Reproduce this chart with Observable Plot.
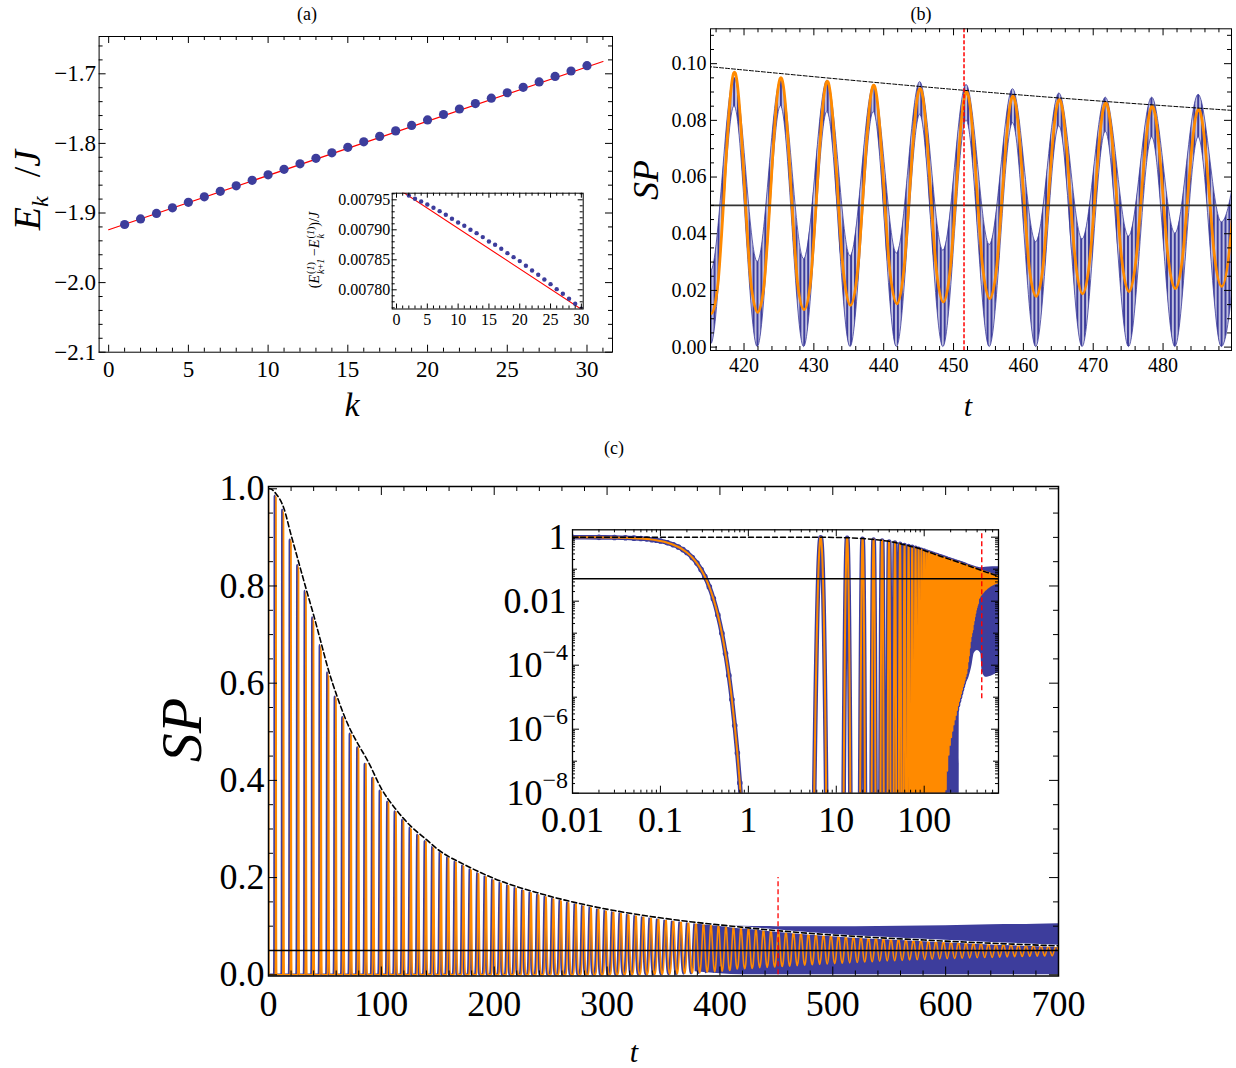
<!DOCTYPE html>
<html>
<head>
<meta charset="utf-8">
<title>Survival probability figure</title>
<script src="https://cdn.jsdelivr.net/npm/d3@7"></script>
<script src="https://cdn.jsdelivr.net/npm/@observablehq/plot@0.6"></script>
<style>
html,body{margin:0;padding:0;background:#fff;}
#page{position:relative;width:1236px;height:1068px;overflow:hidden;background:#fff;font-family:"Liberation Serif","Times New Roman",serif;color:#000;}
#page > svg{position:absolute;overflow:visible;}
.lab{position:absolute;white-space:nowrap;line-height:1;transform:translate(-50%,-50%);}
.rot{transform:translate(-50%,-50%) rotate(-90deg);}
.it{font-style:italic;}
.ss{display:inline-flex;flex-direction:column;vertical-align:middle;font-size:0.72em;line-height:0.95;margin-left:1px;}
</style>
</head>
<body>
<div id="page">
  <div class="lab" style="left:307px;top:14px;font-size:18px">(a)</div>
  <div class="lab" style="left:921px;top:14px;font-size:18px">(b)</div>
  <div class="lab" style="left:614px;top:448px;font-size:18px">(c)</div>
  <div class="lab rot" style="left:30px;top:190px;font-size:38px"><span class="it">E</span><sub class="it" style="font-size:24px">k</sub>&nbsp;&nbsp;/<span class="it">J</span></div>
  <div class="lab it" style="left:352px;top:405px;font-size:34px">k</div>
  <div class="lab rot" style="left:316px;top:250px;font-size:14px">(<span class="it">E</span><span class="ss"><span>(<i>1</i>)</span><span><i>k</i>+<i>1</i></span></span>&thinsp;−<span class="it">E</span><span class="ss"><span>(<i>1</i>)</span><span><i>k</i></span></span>)/<span class="it">J</span></div>
  <div class="lab rot it" style="left:646px;top:180px;font-size:36px">SP</div>
  <div class="lab it" style="left:968px;top:406px;font-size:30px">t</div>
  <div class="lab rot it" style="left:182px;top:730px;font-size:58px">SP</div>
  <div class="lab it" style="left:634px;top:1052px;font-size:30px">t</div>
</div>
<script>
// ======================= DATA =======================
// Panel (a): energies E_k / J
const aK = [1,2,3,4,5,6,7,8,9,10,11,12,13,14,15,16,17,18,19,20,21,22,23,24,25,26,27,28,29,30];
const aEnergy = [-1.9165,-1.9085,-1.9006,-1.8926,-1.8847,-1.8768,-1.8688,-1.8609,-1.8530,-1.8451,
  -1.8372,-1.8293,-1.8214,-1.8135,-1.8056,-1.7977,-1.7899,-1.7820,-1.7742,-1.7663,
  -1.7585,-1.7506,-1.7428,-1.7350,-1.7272,-1.7194,-1.7116,-1.7038,-1.6960,-1.6883];
const aFitK = [0, 31];
const aFitEnergy = [-1.9240, -1.6823];
// Panel (a) inset: level spacing
const aGapK = [2,3,4,5,6,7,8,9,10,11,12,13,14,15,16,17,18,19,20,21,22,23,24,25,26,27,28,29,30];
const aGap = [0.0079570,0.0079517,0.0079472,0.0079422,0.0079367,0.0079311,0.0079250,0.0079183,0.0079122,0.0079067,
  0.0079000,0.0078944,0.0078878,0.0078806,0.0078750,0.0078683,0.0078611,0.0078544,0.0078478,0.0078400,
  0.0078322,0.0078250,0.0078172,0.0078094,0.0078011,0.0077933,0.0077850,0.0077767,0.0077683];
const aGapFitK = [0, 31];
const aGapFit = [0.0079698, 0.0077608];

// Panels (b),(c): revival structure of the survival probability
const revivalPeriod = 6.645;           // spacing of the revivals
const decayWidth = 0.19;               // width of the initial decay
// initial decay (t, SP)
const decayT  = [0,0.01,0.02,0.03,0.04,0.05,0.06,0.07,0.08,0.09,0.10,0.12,0.14,0.16,0.18,0.20,0.23,0.26,0.29,0.32,0.36,0.40,0.45,0.50,0.55,0.60,0.65,0.70,0.75,0.80,0.85];
const decaySP = [1,0.9972,0.989,0.975,0.957,0.933,0.905,0.873,0.838,0.799,0.759,0.672,0.582,0.493,0.409,0.331,0.232,0.155,0.098,0.059,0.0279,0.0120,3.7e-3,1.0e-3,2.3e-4,4.8e-5,8.5e-6,1.3e-6,1.8e-7,2.1e-8,2.1e-9];
// peak height of revival k (k = 0..105)
const cPeak = [1.000,0.986,0.957,0.895,0.843,0.790,0.735,0.678,0.622,0.572,
  0.530,0.496,0.468,0.434,0.405,0.379,0.356,0.336,0.319,0.303,
  0.288,0.275,0.263,0.252,0.242,0.233,0.225,0.217,0.209,0.203,
  0.196,0.190,0.185,0.179,0.174,0.170,0.165,0.161,0.157,0.153,
  0.149,0.146,0.143,0.139,0.136,0.133,0.131,0.128,0.126,0.123,
  0.121,0.119,0.116,0.114,0.112,0.110,0.108,0.107,0.105,0.103,
  0.102,0.100,0.098,0.0970,0.0951,0.0938,0.0924,0.0912,0.0900,0.0885,
  0.0873,0.0861,0.0849,0.0838,0.0827,0.0816,0.0806,0.0796,0.0787,0.0777,
  0.0768,0.0759,0.0750,0.0742,0.0733,0.0725,0.0717,0.0709,0.0702,0.0694,
  0.0687,0.0680,0.0673,0.0666,0.0659,0.0653,0.0646,0.0640,0.0634,0.0628,
  0.0622,0.0616,0.0610,0.0605,0.0599,0.0594];
// width (sigma) of revival k
const cWidth = [0.19,0.24,0.27,0.29,0.31,0.33,0.35,0.37,0.39,0.41,
  0.43,0.45,0.47,0.49,0.51,0.53,0.55,0.57,0.59,0.61,
  0.63,0.65,0.67,0.70,0.72,0.74,0.76,0.78,0.81,0.83,
  0.85,0.87,0.89,0.92,0.94,0.96,0.98,1.00,1.03,1.05,
  1.07,1.10,1.13,1.16,1.19,1.22,1.26,1.30,1.34,1.38,
  1.42,1.47,1.52,1.57,1.62,1.67,1.71,1.75,1.79,1.83,
  1.86,1.89,1.92,1.95,1.99,2.03,2.06,2.10,2.13,2.17,
  2.20,2.23,2.27,2.30,2.34,2.37,2.41,2.44,2.48,2.51,
  2.55,2.58,2.61,2.65,2.68,2.72,2.75,2.77,2.79,2.82,
  2.84,2.86,2.88,2.90,2.92,2.94,2.96,2.98,3.00,3.02,
  3.04,3.06,3.08,3.10,3.12,3.14];
// minimum between revival k and k+1
const cTrough = [0,0,0,0,0,0,0,0,0,0,
  0,0,0,0,0,0,0,0,0,0,
  0,0,1e-11,6e-11,3e-10,2.5e-9,1.3e-8,5e-8,1.6e-7,3.2e-7,
  5.6e-7,8.9e-7,1.4e-6,2e-6,2.8e-6,4e-6,5.6e-6,7.6e-6,1e-5,1.3e-5,
  1.7e-5,2.2e-5,2.8e-5,3.5e-5,4.5e-5,5.6e-5,8e-5,1.3e-4,2e-4,3.5e-4,
  5.6e-4,8e-4,1.05e-3,1.3e-3,1.9e-3,2.5e-3,3.3e-3,4.3e-3,5.4e-3,6.5e-3,
  7.6e-3,8.7e-3,0.0118,0.0123,0.0132,0.0147,0.0153,0.0159,0.0171,0.0179,
  0.0188,0.0196,0.0206,0.0214,0.0222,0.0230,0.0238,0.0246,0.0254,0.0262,
  0.0270,0.0277,0.0284,0.0290,0.0297,0.0303,0.0309,0.0315,0.0320,0.0326,
  0.0331,0.0336,0.0341,0.0346,0.0350,0.0355,0.0359,0.0363,0.0367,0.0371,
  0.0375,0.0379,0.0383,0.0386,0.0390,0.0393];
// dashed envelope
const envT  = [0,0.01,1,6.6,13.3,20,26.6,33.2,40,46.5,53,60,66.4,73,80,88,100,113,126,140,150,175,200,241,291,330,364,419,452,496,572,640,700];
const envSP = [1,1,1,0.99,0.962,0.905,0.85,0.795,0.74,0.684,0.628,0.578,0.537,0.502,0.472,0.44,0.383,0.34,0.306,0.278,0.258,0.225,0.198,0.167,0.139,0.123,0.112,0.098,0.0905,0.0825,0.0725,0.065,0.0595];
const thresholdSP = 0.05;
const markerT = 451.5;
// (b) fast blue oscillation band at the extrema of the slow oscillation
const bBandT  = [411.99,415.31,418.64,421.96,425.28,428.60,431.93,435.25,438.57,441.89,445.22,448.54,451.86,455.18,458.51,461.83,465.15,468.47,471.80,475.12,478.44,481.76,485.09,488.41,491.73];
const bBandLo = [0.086,0.001,0.085,0.000,0.085,0.000,0.083,0.000,0.083,0.000,0.082,0.000,0.080,0.000,0.079,0.000,0.078,0.000,0.076,0.000,0.074,0.000,0.074,0.000,0.073];
const bBandHi = [0.097,0.027,0.095,0.030,0.094,0.031,0.094,0.032,0.092,0.033,0.0935,0.034,0.0925,0.036,0.091,0.037,0.0895,0.038,0.088,0.039,0.088,0.040,0.089,0.044,0.088];
// (c) blue band at late times
const cBandT  = [378,400,420,450,480,520,560,600,640,680,700];
const cBandLo = [0.006,0.002,0,0,0,0,0,0,0,0,0];
const cBandHi = [0.104,0.102,0.100,0.099,0.099,0.099,0.100,0.101,0.103,0.104,0.105];
const cRedSpan = [0, 0.2];
// (c) inset: blue region below the orange minima
const ciBlueT  = [169,250,251,290,324,350,370,403,440,455,500,600,700];
const ciBlueLo = [1e-9,1e-9,1.2e-5,2.5e-5,4.3e-5,1e-4,2.3e-4,2.9e-4,2.3e-4,6.8e-5,4.2e-5,4.8e-5,6e-5];
const ciBlueHi = [0.1,0.1,0.1,0.1,0.1,0.1,0.1,0.105,0.11,0.11,0.115,0.12,0.12];
const ciRedSpan = [9e-6, 1.3];

// ======================= HELPERS =======================
const blue = "#3d3d9c", orange = "#ff8a00", serif = "'Liberation Serif','Times New Roman',serif";
const page = document.getElementById("page");

function buildRevivalSeries() {
  const pts = [], half = revivalPeriod / 2;
  for (let k = 0; k < cPeak.length; k++) {
    const tk = k * revivalPeriod, s = cWidth[k] / decayWidth;
    const prev = k > 0 ? cTrough[k - 1] : 0, next = cTrough[k];
    if (k > 0) {
      for (let i = decayT.length - 1; i >= 1; i--) {
        const off = decayT[i] * s, v = cPeak[k] * decaySP[i];
        if (off < half * 0.96 && v > prev * 1.6) pts.push({t: tk - off, sp: v});
      }
    }
    pts.push({t: tk, sp: cPeak[k]});
    for (let i = 1; i < decayT.length; i++) {
      const off = decayT[i] * s, v = cPeak[k] * decaySP[i];
      if (off < half * 0.96 && v > next * 1.6) pts.push({t: tk + off, sp: v});
    }
    pts.push({t: tk + half, sp: next});
  }
  return pts;
}
const series = buildRevivalSeries();
const envTable = envT.map((t, i) => ({t, sp: envSP[i]}));

function stepRange(lo, hi, step, majors) {
  const out = [];
  const n0 = Math.ceil(lo / step - 1e-9), n1 = Math.floor(hi / step + 1e-9);
  for (let n = n0; n <= n1; n++) {
    const v = +(n * step).toFixed(10);
    if (!majors.some(m => Math.abs(m - v) < step * 1e-3)) out.push(v);
  }
  return out;
}
function logMinors(lo, hi) {
  const out = [];
  for (let e = Math.floor(Math.log10(lo)); e <= Math.ceil(Math.log10(hi)); e++)
    for (let m = 2; m <= 9; m++) { const v = m * Math.pow(10, e); if (v >= lo && v <= hi) out.push(v); }
  return out;
}
function frameTicks({fw, fh, xMajor = [], xMinor = [], yMajor = [], yMid = [], yMinor = [], majorLen = 7, midLen = 5, minorLen = 4}) {
  const st = {stroke: "#000", strokeWidth: 1};
  const out = [];
  for (const [v, len] of [[xMajor, majorLen], [xMinor, minorLen]]) if (v.length) {
    out.push(Plot.tickX(v, {x: d => d, insetTop: fh - len, ...st}));
    out.push(Plot.tickX(v, {x: d => d, insetBottom: fh - len, ...st}));
  }
  for (const [v, len] of [[yMajor, majorLen], [yMid, midLen], [yMinor, minorLen]]) if (v.length) {
    out.push(Plot.tickY(v, {y: d => d, insetRight: fw - len, ...st}));
    out.push(Plot.tickY(v, {y: d => d, insetLeft: fw - len, ...st}));
  }
  return out;
}
function place(svg, left, top) {
  svg.style.left = left + "px";
  svg.style.top = top + "px";
  page.appendChild(svg);
}
function addHatch(svg, id, spacing, lineW, color) {
  const ns = "http://www.w3.org/2000/svg";
  const defs = document.createElementNS(ns, "defs");
  const pat = document.createElementNS(ns, "pattern");
  pat.setAttribute("id", id);
  pat.setAttribute("patternUnits", "userSpaceOnUse");
  pat.setAttribute("width", spacing);
  pat.setAttribute("height", 10);
  const bg = document.createElementNS(ns, "rect");
  bg.setAttribute("width", spacing); bg.setAttribute("height", 10);
  bg.setAttribute("fill", color); bg.setAttribute("fill-opacity", 0.3);
  const ln = document.createElementNS(ns, "rect");
  ln.setAttribute("width", lineW); ln.setAttribute("height", 10); ln.setAttribute("fill", color);
  pat.appendChild(bg); pat.appendChild(ln); defs.appendChild(pat);
  svg.insertBefore(defs, svg.firstChild);
}

// ======================= PANEL (a) =======================
{
  const W = 620, H = 430, ML = 98.6, MR = 8, MT = 36, MB = 78.3;
  const fw = W - ML - MR, fh = H - MT - MB;
  const xMaj = [0,5,10,15,20,25,30], yMaj = [-2.1,-2.0,-1.9,-1.8,-1.7];
  const pts = aK.map((k, i) => ({k, e: aEnergy[i]}));
  const fit = aFitK.map((k, i) => ({k, e: aFitEnergy[i]}));
  const svg = Plot.plot({
    width: W, height: H, marginLeft: ML, marginRight: MR, marginTop: MT, marginBottom: MB,
    x: {domain: [-0.6, 31.6], axis: null}, y: {domain: [-2.1, -1.6464], axis: null},
    style: {fontFamily: serif, fontSize: "23px", background: "transparent", color: "#000"},
    marks: [
      Plot.line(fit, {x: "k", y: "e", stroke: "#ff0000", strokeWidth: 1.2, clip: true}),
      Plot.dot(pts, {x: "k", y: "e", r: 4.6, fill: blue, stroke: "none"}),
      Plot.frame({stroke: "#000", strokeWidth: 1}),
      ...frameTicks({fw, fh, xMajor: xMaj, xMinor: stepRange(-0.6, 31.6, 1, xMaj), yMajor: yMaj, yMinor: stepRange(-2.1, -1.6464, 0.02, yMaj), majorLen: 7, minorLen: 4}),
      Plot.axisX({ticks: xMaj, tickSize: 0, tickPadding: 8, tickFormat: d => String(d), label: null}),
      Plot.axisY({ticks: yMaj, tickSize: 0, tickPadding: 3, tickFormat: d3.format(".1f"), label: null})
    ]
  });
  place(svg, 0, 0);
}
// ---- inset (a)
{
  const W = 290, H = 160, ML = 91.7, MR = 7.3, MT = 12.7, MB = 31.5;
  const fw = W - ML - MR, fh = H - MT - MB;
  const xMaj = [0,5,10,15,20,25,30], yMaj = [0.0078,0.00785,0.0079,0.00795];
  const pts = aGapK.map((k, i) => ({k, g: aGap[i]}));
  const fit = aGapFitK.map((k, i) => ({k, g: aGapFit[i]}));
  const svg = Plot.plot({
    width: W, height: H, marginLeft: ML, marginRight: MR, marginTop: MT, marginBottom: MB,
    x: {domain: [-0.7, 30.3], axis: null}, y: {domain: [0.007768, 0.007961], axis: null},
    style: {fontFamily: serif, fontSize: "16px", background: "transparent", color: "#000"},
    marks: [
      Plot.frame({fill: "#fff", stroke: "none"}),
      Plot.line(fit, {x: "k", y: "g", stroke: "#ff0000", strokeWidth: 1.1, clip: true}),
      Plot.dot(pts, {x: "k", y: "g", r: 2.2, fill: blue, stroke: "none", clip: true}),
      Plot.frame({stroke: "#000", strokeWidth: 1}),
      ...frameTicks({fw, fh, xMajor: xMaj, xMinor: stepRange(-0.7, 30.3, 1, xMaj), yMajor: yMaj, yMinor: stepRange(0.007768, 0.007961, 0.00001, yMaj), majorLen: 5, minorLen: 3}),
      Plot.axisX({ticks: xMaj, tickSize: 0, tickPadding: 5, tickFormat: d => String(d), label: null}),
      Plot.axisY({ticks: yMaj, tickSize: 0, tickPadding: 2, tickFormat: d3.format(".5f"), label: null})
    ]
  });
  place(svg, 300, 180);
}

// ======================= PANEL (b) =======================
{
  const W = 616, H = 430, ML = 90, MR = 5, MT = 28.3, MB = 80;
  const fw = W - ML - MR, fh = H - MT - MB;
  const xMaj = [420,430,440,450,460,470,480], yMaj = [0,0.02,0.04,0.06,0.08,0.10];
  const xd = [415.2, 489.8], yd = [-0.0012, 0.1123];
  const band = bBandT.map((t, i) => ({t, lo: bBandLo[i], hi: bBandHi[i]}));
  const sub = series.filter(d => d.t > 400 && d.t < 505);
  const svg = Plot.plot({
    width: W, height: H, marginLeft: ML, marginRight: MR, marginTop: MT, marginBottom: MB,
    x: {domain: xd, axis: null}, y: {domain: yd, axis: null},
    style: {fontFamily: serif, fontSize: "20px", background: "transparent", color: "#000"},
    marks: [
      Plot.areaY(band, {x: "t", y1: "lo", y2: "hi", curve: "monotone-x", fill: "url(#hatchB)", stroke: blue, strokeWidth: 0.8, clip: true}),
      Plot.line(sub, {x: "t", y: "sp", curve: "monotone-x", stroke: orange, strokeWidth: 2.8, clip: true}),
      Plot.ruleY([thresholdSP], {stroke: "#333", strokeWidth: 1.6}),
      Plot.line(envTable, {x: "t", y: "sp", curve: "monotone-x", stroke: "#000", strokeWidth: 1, strokeDasharray: "4,2", clip: true}),
      Plot.ruleX([markerT], {stroke: "#ff0000", strokeWidth: 1.5, strokeDasharray: "4,2"}),
      Plot.frame({stroke: "#000", strokeWidth: 1}),
      ...frameTicks({fw, fh, xMajor: xMaj, xMinor: stepRange(xd[0], xd[1], 2, xMaj), yMajor: yMaj, yMinor: stepRange(0, 0.1123, 0.005, yMaj), majorLen: 7, minorLen: 4}),
      Plot.axisX({ticks: xMaj, tickSize: 0, tickPadding: 7, tickFormat: d => String(d), label: null}),
      Plot.axisY({ticks: yMaj, tickSize: 0, tickPadding: 4, tickFormat: d3.format(".2f"), label: null})
    ]
  });
  addHatch(svg, "hatchB", 3.9, 2.0, blue);
  place(svg, 620, 0);
}

// ======================= PANEL (c) =======================
{
  const W = 960, H = 608, ML = 118, MR = 52, MT = 26, MB = 92.5;
  const fw = W - ML - MR, fh = H - MT - MB;
  const xMaj = [0,100,200,300,400,500,600,700], yMaj = [0,0.2,0.4,0.6,0.8,1.0];
  const xd = [0, 700], yd = [-0.0025, 1.0047];
  const band = cBandT.map((t, i) => ({t, lo: cBandLo[i], hi: cBandHi[i]}));
  const red = [{t: markerT, lo: cRedSpan[0], hi: cRedSpan[1]}];
  const svg = Plot.plot({
    width: W, height: H, marginLeft: ML, marginRight: MR, marginTop: MT, marginBottom: MB,
    x: {domain: xd, axis: null}, y: {domain: yd, axis: null},
    style: {fontFamily: serif, fontSize: "36px", background: "transparent", color: "#000"},
    marks: [
      Plot.line(series, {x: "t", y: "sp", curve: "monotone-x", stroke: blue, strokeWidth: 2.4, dx: -1.2, clip: true}),
      Plot.areaY(band, {x: "t", y1: "lo", y2: "hi", curve: "monotone-x", fill: blue, clip: true}),
      Plot.line(series, {x: "t", y: "sp", curve: "monotone-x", stroke: orange, strokeWidth: 1.6, clip: true}),
      Plot.ruleY([thresholdSP], {stroke: "#000", strokeWidth: 1.6}),
      Plot.line(envTable, {x: "t", y: "sp", curve: "monotone-x", stroke: "#fff", strokeWidth: 2.4, clip: true}),
      Plot.line(envTable, {x: "t", y: "sp", curve: "monotone-x", stroke: "#000", strokeWidth: 1.6, strokeDasharray: "5,3", clip: true}),
      Plot.ruleX(red, {x: "t", y1: "lo", y2: "hi", stroke: "#ff0000", strokeWidth: 1.3, strokeDasharray: "5,3"}),
      Plot.frame({stroke: "#000", strokeWidth: 1.5}),
      ...frameTicks({fw, fh, xMajor: xMaj, xMinor: stepRange(0, 700, 20, xMaj), yMajor: yMaj, yMinor: stepRange(0, 1, 0.05, yMaj), majorLen: 9, minorLen: 5}),
      Plot.axisX({ticks: xMaj, tickSize: 0, tickPadding: 14, tickFormat: d => String(d), label: null}),
      Plot.axisY({ticks: yMaj, tickSize: 0, tickPadding: 4, tickFormat: d3.format(".1f"), label: null})
    ]
  });
  place(svg, 150, 460);
}
// ---- inset (c)
{
  const W = 530, H = 335, ML = 92, MR = 12, MT = 14.3, MB = 57.3;
  const fw = W - ML - MR, fh = H - MT - MB;
  const xd = [0.01, 700], yd = [1e-8, 1.7];
  const xMaj = [0.01, 0.1, 1, 10, 100];
  const yLab = [1, 0.01, 1e-4, 1e-6, 1e-8], yMid = [0.1, 1e-3, 1e-5, 1e-7];
  const logSeries = series.filter(d => d.t > 0).map(d => ({t: d.t, sp: Math.max(d.sp, 1e-13)}));
  const dots = decayT.map((t, i) => ({t, sp: decaySP[i]})).filter(d => d.t > 0);
  const blueRegion = ciBlueT.map((t, i) => ({t, lo: ciBlueLo[i], hi: ciBlueHi[i]}));
  const red = [{t: markerT, lo: ciRedSpan[0], hi: ciRedSpan[1]}];
  const plainLab = [{v: 1, s: "1"}, {v: 0.01, s: "0.01"}];
  const powLab = [{v: 1e-4, b: "10", p: "−4"}, {v: 1e-6, b: "10", p: "−6"}, {v: 1e-8, b: "10", p: "−8"}];
  const svg = Plot.plot({
    width: W, height: H, marginLeft: ML, marginRight: MR, marginTop: MT, marginBottom: MB,
    x: {type: "log", domain: xd, axis: null}, y: {type: "log", domain: yd, axis: null},
    style: {fontFamily: serif, fontSize: "36px", background: "transparent", color: "#000"},
    marks: [
      Plot.frame({fill: "#fff", stroke: "none"}),
      Plot.areaY(blueRegion, {x: "t", y1: "lo", y2: "hi", curve: "monotone-x", fill: blue, clip: true}),
      Plot.line(logSeries, {x: "t", y: "sp", curve: "monotone-x", stroke: blue, strokeWidth: 4.6, clip: true}),
      Plot.dot(dots, {x: "t", y: "sp", r: 2.8, fill: blue, stroke: "none", clip: true}),
      Plot.line(logSeries, {x: "t", y: "sp", curve: "monotone-x", stroke: orange, strokeWidth: 2, clip: true}),
      Plot.ruleY([thresholdSP], {stroke: "#000", strokeWidth: 1.4}),
      Plot.line(envTable.filter(d => d.t > 0), {x: "t", y: "sp", curve: "monotone-x", stroke: "#000", strokeWidth: 1.5, strokeDasharray: "5,3", clip: true}),
      Plot.ruleX(red, {x: "t", y1: "lo", y2: "hi", stroke: "#ff0000", strokeWidth: 1.4, strokeDasharray: "5,3", clip: true}),
      Plot.frame({stroke: "#000", strokeWidth: 1.3}),
      ...frameTicks({fw, fh, xMajor: xMaj, xMinor: logMinors(0.01, 700), yMajor: yLab, yMid: yMid, yMinor: logMinors(1e-8, 1.7), majorLen: 7, midLen: 5, minorLen: 3}),
      Plot.axisX({ticks: xMaj, tickSize: 0, tickPadding: 13, tickFormat: d => (d < 1 ? String(d) : String(Math.round(d))), label: null}),
      Plot.text(plainLab, {y: "v", text: "s", frameAnchor: "left", textAnchor: "end", dx: -6, fontSize: 36}),
      Plot.text(powLab, {y: "v", text: "b", frameAnchor: "left", textAnchor: "end", dx: -30, fontSize: 36}),
      Plot.text(powLab, {y: "v", text: "p", frameAnchor: "left", textAnchor: "start", dx: -30, dy: -13, fontSize: 24})
    ]
  });
  place(svg, 480, 515);
}
</script>
</body>
</html>
